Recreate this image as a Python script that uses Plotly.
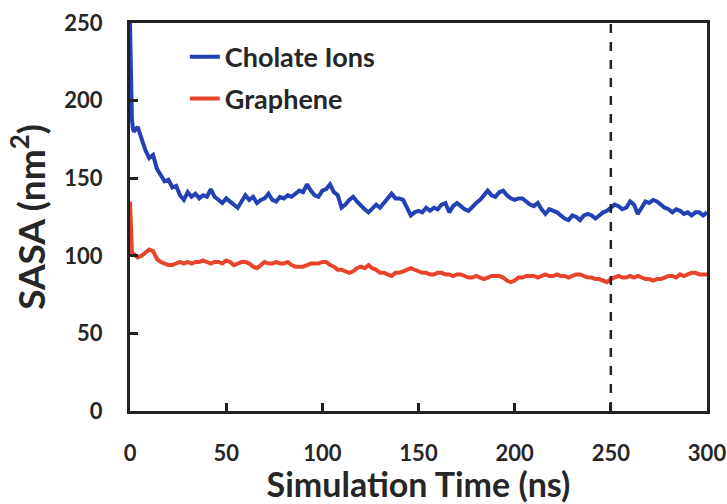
import plotly.graph_objects as go

# ---- data ----
time_start = [0, 0.5, 1, 1.5]
time_main = list(range(2, 301, 2))
time_ns = time_start + time_main

cholate_start = [250, 205, 188, 182]
cholate_main = [
    180, 183, 176, 168, 163, 165, 156, 152, 148, 149,
    144, 145, 139, 136, 141, 138, 140, 137, 139, 138,
    143, 138, 136, 134, 137, 135, 133, 131, 135, 139,
    136, 138, 134, 136, 137, 140, 136, 135, 138, 137,
    139, 138, 140, 142, 141, 146, 142, 139, 138, 142,
    143, 146, 141, 139, 131, 133, 136, 138, 135, 132,
    130, 128, 131, 133, 131, 134, 136, 140, 137, 137,
    136, 131, 126, 128, 129, 128, 131, 129, 131, 130,
    133, 134, 128, 132, 134, 132, 130, 129, 132, 134,
    136, 139, 142, 139, 138, 141, 142, 139, 137, 136,
    137, 137, 135, 133, 132, 134, 130, 127, 130, 129,
    128, 126, 124, 123, 126, 125, 123, 126, 127, 126,
    124, 126, 128, 129, 131, 133, 132, 130, 131, 135,
    133, 127, 131, 135, 134, 136, 135, 133, 131, 130,
    128, 130, 129, 127, 128, 126, 128, 128, 126, 128,
]
cholate_sasa = cholate_start + cholate_main

graphene_start = [135, 112, 102, 100]
graphene_main = [
    101, 99, 100, 102, 104, 103, 98, 96, 95, 94,
    94, 95, 96, 95, 96, 95, 96, 96, 97, 96,
    95, 96, 96, 95, 97, 96, 94, 95, 96, 96,
    95, 93, 92, 94, 96, 95, 95, 96, 95, 95,
    96, 94, 93, 93, 93, 94, 95, 95, 95, 96,
    96, 94, 93, 91, 91, 90, 89, 90, 92, 93,
    92, 94, 92, 91, 89, 89, 88, 87, 89, 89,
    90, 91, 92, 91, 90, 89, 89, 88, 88, 89,
    89, 88, 88, 87, 88, 88, 87, 86, 86, 87,
    86, 85, 86, 87, 87, 87, 86, 84, 83, 84,
    86, 86, 87, 87, 87, 86, 87, 88, 87, 87,
    88, 87, 87, 86, 87, 88, 88, 87, 86, 86,
    85, 85, 84, 83, 85, 86, 87, 86, 86, 87,
    86, 87, 86, 85, 85, 84, 85, 85, 86, 87,
    87, 86, 88, 87, 88, 89, 89, 88, 88, 88,
]
graphene_sasa = graphene_start + graphene_main

series_names = ["Cholate Ions", "Graphene"]
x_ticks = [0, 50, 100, 150, 200, 250, 300]
y_ticks = [0, 50, 100, 150, 200, 250]
cutoff_time = 250

# ---- styling ----
FONT = "Lato"
TXT = "#262626"
BLUE = "#2340b4"
RED = "#e8442c"

fig = go.Figure()
fig.add_trace(go.Scatter(x=time_ns, y=cholate_sasa, mode="lines", name=series_names[0],
                         line=dict(color=BLUE, width=4), legend="legend"))
fig.add_trace(go.Scatter(x=time_ns, y=graphene_sasa, mode="lines", name=series_names[1],
                         line=dict(color=RED, width=4), legend="legend2"))

fig.add_vline(x=cutoff_time, line=dict(color="#222222", width=2.5, dash="dash"), layer="above")

axis_common = dict(
    showgrid=False, zeroline=False, showline=True, linecolor="#222222", linewidth=3,
    mirror=True, ticks="inside", ticklen=8, tickwidth=2.5, tickcolor="#222222",
    tickfont=dict(family=FONT, size=22, color=TXT, weight="bold"),
    automargin=False,
)

fig.update_layout(
    width=727, height=504,
    margin=dict(l=130, r=20, t=23, b=93),
    paper_bgcolor="white", plot_bgcolor="white",
    font=dict(family=FONT, color=TXT),
    xaxis=dict(range=[0, 300], tickvals=x_ticks, ticklabelstandoff=21,
               title=dict(text="Simulation Time (ns)", font=dict(family=FONT, size=34, color=TXT, weight="bold"),
                          standoff=2),
               **axis_common),
    yaxis=dict(range=[0, 250], tickvals=y_ticks, ticklabelstandoff=20,
               title=dict(text="SASA (nm<sup>2</sup>)", font=dict(family=FONT, size=37, color=TXT, weight="bold"),
                          standoff=8),
               **axis_common),
    legend=dict(x=0.095, y=0.912, xanchor="left", yanchor="middle", bgcolor="rgba(0,0,0,0)",
                font=dict(family=FONT, size=27, color=TXT, weight="bold")),
    legend2=dict(x=0.095, y=0.804, xanchor="left", yanchor="middle", bgcolor="rgba(0,0,0,0)",
                 font=dict(family=FONT, size=27, color=TXT, weight="bold")),
    showlegend=True,
)

fig.write_html("out.html", config={"displayModeBar": False},
               post_script="document.body.style.margin='0px';")
